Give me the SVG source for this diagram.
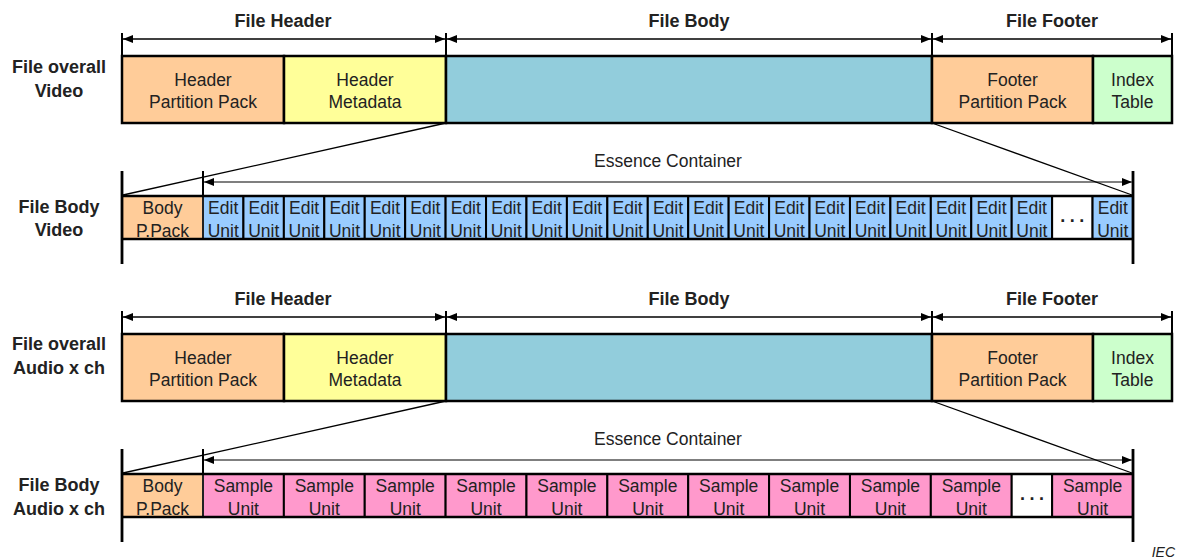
<svg xmlns="http://www.w3.org/2000/svg" width="1179" height="560" viewBox="0 0 1179 560">
<style>
  text { font-family: "Liberation Sans", Arial, sans-serif; font-size: 17.5px; fill: #222; text-anchor: middle; }
  .b { font-weight: bold; font-size: 18px; }
  .iec { font-size: 14px; font-style: italic; text-anchor: end; }
  .dots { font-weight: bold; font-size: 18px; letter-spacing: 4.5px; }
  .box { stroke: #000; stroke-width: 2.5; }
  .cell { stroke: #000; stroke-width: 2; }
  .orange { fill: #FFCC99; }
  .yellow { fill: #FFFF99; }
  .teal { fill: #92CDDC; }
  .green { fill: #CCFFCC; }
  .blue { fill: #99CCFF; }
  .pink { fill: #FF99CC; }
  .white { fill: #FFFFFF; }
  .dim { stroke: #000; stroke-width: 1.3; fill: none; marker-start: url(#ah); marker-end: url(#ah); }
  .ec { stroke: #555; stroke-width: 1.6; fill: none; marker-start: url(#ah); marker-end: url(#ah); }
  .tick { stroke: #000; stroke-width: 2; }
  .edge { stroke: #000; stroke-width: 2.8; }
  .rule { stroke: #000; stroke-width: 2.5; }
  .zoom { stroke: #000; stroke-width: 1.3; }
  .sep { stroke: #444; stroke-width: 1; }
</style>
<defs>
  <marker id="ah" viewBox="0 0 10 8" refX="10" refY="4" markerWidth="10" markerHeight="8" markerUnits="userSpaceOnUse" orient="auto-start-reverse">
    <path d="M0,0 L10,4 L0,8 z" fill="#000"/>
  </marker>
</defs>
<rect width="1179" height="560" fill="#fff"/>

<!-- ============ Video ============ -->
<g id="video">
  <g id="v-labels">
    <text class="b" x="283" y="27">File Header</text>
    <text class="b" x="689" y="27">File Body</text>
    <text class="b" x="1052" y="27">File Footer</text>
    <text class="b" x="59" y="73">File overall</text>
    <text class="b" x="59" y="97">Video</text>
    <text class="b" x="59" y="213">File Body</text>
    <text class="b" x="59" y="236">Video</text>
    <text x="668" y="167">Essence Container</text>
  </g>

  <g id="v-header-pp"><rect class="box orange" x="122" y="56" width="162" height="67"/><text x="203" y="86">Header</text><text x="203" y="108">Partition Pack</text></g>
  <g id="v-header-md"><rect class="box yellow" x="284" y="56" width="162" height="67"/><text x="365" y="86">Header</text><text x="365" y="108">Metadata</text></g>
  <g id="v-body"><rect class="box teal" x="446" y="56" width="486" height="67"/></g>
  <g id="v-footer-pp"><rect class="box orange" x="932" y="56" width="161" height="67"/><text x="1012.5" y="86">Footer</text><text x="1012.5" y="108">Partition Pack</text></g>
  <g id="v-index"><rect class="box green" x="1093" y="56" width="79" height="67"/><text x="1132.5" y="86">Index</text><text x="1132.5" y="108">Table</text></g>

  <g id="v-body-pp"><rect class="orange" x="122" y="196" width="81" height="43"/><text x="162.5" y="214">Body</text><text x="162.5" y="236.5">P.Pack</text></g>
  <g id="v-eu01"><rect class="cell blue" x="203.0" y="196" width="40.43" height="43"/><text x="223.2" y="214">Edit</text><text x="223.2" y="236.5">Unit</text></g>
  <g id="v-eu02"><rect class="cell blue" x="243.43" y="196" width="40.43" height="43"/><text x="263.7" y="214">Edit</text><text x="263.7" y="236.5">Unit</text></g>
  <g id="v-eu03"><rect class="cell blue" x="283.87" y="196" width="40.43" height="43"/><text x="304.1" y="214">Edit</text><text x="304.1" y="236.5">Unit</text></g>
  <g id="v-eu04"><rect class="cell blue" x="324.30" y="196" width="40.43" height="43"/><text x="344.5" y="214">Edit</text><text x="344.5" y="236.5">Unit</text></g>
  <g id="v-eu05"><rect class="cell blue" x="364.74" y="196" width="40.43" height="43"/><text x="385.0" y="214">Edit</text><text x="385.0" y="236.5">Unit</text></g>
  <g id="v-eu06"><rect class="cell blue" x="405.17" y="196" width="40.43" height="43"/><text x="425.4" y="214">Edit</text><text x="425.4" y="236.5">Unit</text></g>
  <g id="v-eu07"><rect class="cell blue" x="445.61" y="196" width="40.43" height="43"/><text x="465.8" y="214">Edit</text><text x="465.8" y="236.5">Unit</text></g>
  <g id="v-eu08"><rect class="cell blue" x="486.04" y="196" width="40.43" height="43"/><text x="506.3" y="214">Edit</text><text x="506.3" y="236.5">Unit</text></g>
  <g id="v-eu09"><rect class="cell blue" x="526.48" y="196" width="40.43" height="43"/><text x="546.7" y="214">Edit</text><text x="546.7" y="236.5">Unit</text></g>
  <g id="v-eu10"><rect class="cell blue" x="566.91" y="196" width="40.43" height="43"/><text x="587.1" y="214">Edit</text><text x="587.1" y="236.5">Unit</text></g>
  <g id="v-eu11"><rect class="cell blue" x="607.35" y="196" width="40.43" height="43"/><text x="627.6" y="214">Edit</text><text x="627.6" y="236.5">Unit</text></g>
  <g id="v-eu12"><rect class="cell blue" x="647.78" y="196" width="40.43" height="43"/><text x="668.0" y="214">Edit</text><text x="668.0" y="236.5">Unit</text></g>
  <g id="v-eu13"><rect class="cell blue" x="688.22" y="196" width="40.43" height="43"/><text x="708.4" y="214">Edit</text><text x="708.4" y="236.5">Unit</text></g>
  <g id="v-eu14"><rect class="cell blue" x="728.65" y="196" width="40.43" height="43"/><text x="748.9" y="214">Edit</text><text x="748.9" y="236.5">Unit</text></g>
  <g id="v-eu15"><rect class="cell blue" x="769.09" y="196" width="40.43" height="43"/><text x="789.3" y="214">Edit</text><text x="789.3" y="236.5">Unit</text></g>
  <g id="v-eu16"><rect class="cell blue" x="809.52" y="196" width="40.43" height="43"/><text x="829.7" y="214">Edit</text><text x="829.7" y="236.5">Unit</text></g>
  <g id="v-eu17"><rect class="cell blue" x="849.96" y="196" width="40.43" height="43"/><text x="870.2" y="214">Edit</text><text x="870.2" y="236.5">Unit</text></g>
  <g id="v-eu18"><rect class="cell blue" x="890.39" y="196" width="40.43" height="43"/><text x="910.6" y="214">Edit</text><text x="910.6" y="236.5">Unit</text></g>
  <g id="v-eu19"><rect class="cell blue" x="930.83" y="196" width="40.43" height="43"/><text x="951.0" y="214">Edit</text><text x="951.0" y="236.5">Unit</text></g>
  <g id="v-eu20"><rect class="cell blue" x="971.26" y="196" width="40.43" height="43"/><text x="991.5" y="214">Edit</text><text x="991.5" y="236.5">Unit</text></g>
  <g id="v-eu21"><rect class="cell blue" x="1011.70" y="196" width="40.43" height="43"/><text x="1031.9" y="214">Edit</text><text x="1031.9" y="236.5">Unit</text></g>
  <g id="v-more"><rect class="cell white" x="1052.13" y="196" width="40.43" height="43"/><text class="dots" x="1074.6" y="222">...</text></g>
  <g id="v-eu-last"><rect class="cell blue" x="1092.57" y="196" width="40.43" height="43"/><text x="1112.8" y="214">Edit</text><text x="1112.8" y="236.5">Unit</text></g>

  <g id="v-connectors">
    <line class="tick" x1="122" y1="33" x2="122" y2="56"/>
    <line class="tick" x1="446" y1="33" x2="446" y2="56"/>
    <line class="tick" x1="932" y1="33" x2="932" y2="56"/>
    <line class="tick" x1="1172" y1="33" x2="1172" y2="56"/>
    <line class="dim" x1="123" y1="39" x2="445" y2="39"/>
    <line class="dim" x1="447" y1="39" x2="931" y2="39"/>
    <line class="dim" x1="933" y1="39" x2="1171" y2="39"/>
    <line class="sep" x1="203" y1="197" x2="203" y2="238"/>
    <line class="rule" x1="122" y1="196" x2="1133" y2="196"/>
    <line class="rule" x1="122" y1="239" x2="1133" y2="239"/>
    <line class="edge" x1="122" y1="171" x2="122" y2="264"/>
    <line class="edge" x1="1133" y1="171" x2="1133" y2="264"/>
    <line class="tick" x1="203" y1="171" x2="203" y2="196"/>
    <line class="ec" x1="204" y1="182" x2="1132" y2="182"/>
    <line class="zoom" x1="446" y1="123" x2="123" y2="195"/>
    <line class="zoom" x1="932" y1="123" x2="1132" y2="195"/>
  </g>
</g>

<!-- ============ Audio ============ -->
<g id="audio" transform="translate(0,278)">
  <g id="a-labels">
    <text class="b" x="283" y="27">File Header</text>
    <text class="b" x="689" y="27">File Body</text>
    <text class="b" x="1052" y="27">File Footer</text>
    <text class="b" x="59" y="72">File overall</text>
    <text class="b" x="59" y="96">Audio x ch</text>
    <text class="b" x="59" y="213">File Body</text>
    <text class="b" x="59" y="236.5">Audio x ch</text>
    <text x="668" y="167">Essence Container</text>
  </g>

  <g id="a-header-pp"><rect class="box orange" x="122" y="56" width="162" height="67"/><text x="203" y="86">Header</text><text x="203" y="108">Partition Pack</text></g>
  <g id="a-header-md"><rect class="box yellow" x="284" y="56" width="162" height="67"/><text x="365" y="86">Header</text><text x="365" y="108">Metadata</text></g>
  <g id="a-body"><rect class="box teal" x="446" y="56" width="486" height="67"/></g>
  <g id="a-footer-pp"><rect class="box orange" x="932" y="56" width="161" height="67"/><text x="1012.5" y="86">Footer</text><text x="1012.5" y="108">Partition Pack</text></g>
  <g id="a-index"><rect class="box green" x="1093" y="56" width="79" height="67"/><text x="1132.5" y="86">Index</text><text x="1132.5" y="108">Table</text></g>

  <g id="a-body-pp"><rect class="orange" x="122" y="196" width="81" height="43"/><text x="162.5" y="214">Body</text><text x="162.5" y="236.5">P.Pack</text></g>
  <g id="a-su01"><rect class="cell pink" x="203.0" y="196" width="80.87" height="43"/><text x="243.4" y="214">Sample</text><text x="243.4" y="236.5">Unit</text></g>
  <g id="a-su02"><rect class="cell pink" x="283.87" y="196" width="80.87" height="43"/><text x="324.3" y="214">Sample</text><text x="324.3" y="236.5">Unit</text></g>
  <g id="a-su03"><rect class="cell pink" x="364.74" y="196" width="80.87" height="43"/><text x="405.2" y="214">Sample</text><text x="405.2" y="236.5">Unit</text></g>
  <g id="a-su04"><rect class="cell pink" x="445.61" y="196" width="80.87" height="43"/><text x="486.0" y="214">Sample</text><text x="486.0" y="236.5">Unit</text></g>
  <g id="a-su05"><rect class="cell pink" x="526.48" y="196" width="80.87" height="43"/><text x="566.9" y="214">Sample</text><text x="566.9" y="236.5">Unit</text></g>
  <g id="a-su06"><rect class="cell pink" x="607.35" y="196" width="80.87" height="43"/><text x="647.8" y="214">Sample</text><text x="647.8" y="236.5">Unit</text></g>
  <g id="a-su07"><rect class="cell pink" x="688.22" y="196" width="80.87" height="43"/><text x="728.7" y="214">Sample</text><text x="728.7" y="236.5">Unit</text></g>
  <g id="a-su08"><rect class="cell pink" x="769.09" y="196" width="80.87" height="43"/><text x="809.5" y="214">Sample</text><text x="809.5" y="236.5">Unit</text></g>
  <g id="a-su09"><rect class="cell pink" x="849.96" y="196" width="80.87" height="43"/><text x="890.4" y="214">Sample</text><text x="890.4" y="236.5">Unit</text></g>
  <g id="a-su10"><rect class="cell pink" x="930.83" y="196" width="80.87" height="43"/><text x="971.3" y="214">Sample</text><text x="971.3" y="236.5">Unit</text></g>
  <g id="a-more"><rect class="cell white" x="1011.70" y="196" width="40.43" height="43"/><text class="dots" x="1034.2" y="222">...</text></g>
  <g id="a-su-last"><rect class="cell pink" x="1052.13" y="196" width="80.87" height="43"/><text x="1092.6" y="214">Sample</text><text x="1092.6" y="236.5">Unit</text></g>

  <g id="a-connectors">
    <line class="tick" x1="122" y1="33" x2="122" y2="56"/>
    <line class="tick" x1="446" y1="33" x2="446" y2="56"/>
    <line class="tick" x1="932" y1="33" x2="932" y2="56"/>
    <line class="tick" x1="1172" y1="33" x2="1172" y2="56"/>
    <line class="dim" x1="123" y1="39" x2="445" y2="39"/>
    <line class="dim" x1="447" y1="39" x2="931" y2="39"/>
    <line class="dim" x1="933" y1="39" x2="1171" y2="39"/>
    <line class="sep" x1="203" y1="197" x2="203" y2="238"/>
    <line class="rule" x1="122" y1="196" x2="1133" y2="196"/>
    <line class="rule" x1="122" y1="239" x2="1133" y2="239"/>
    <line class="edge" x1="122" y1="171" x2="122" y2="264"/>
    <line class="edge" x1="1133" y1="171" x2="1133" y2="264"/>
    <line class="tick" x1="203" y1="171" x2="203" y2="196"/>
    <line class="ec" x1="204" y1="182" x2="1132" y2="182"/>
    <line class="zoom" x1="446" y1="123" x2="123" y2="195"/>
    <line class="zoom" x1="932" y1="123" x2="1132" y2="195"/>
  </g>
</g>

<text class="iec" x="1175" y="557">IEC</text>
</svg>
